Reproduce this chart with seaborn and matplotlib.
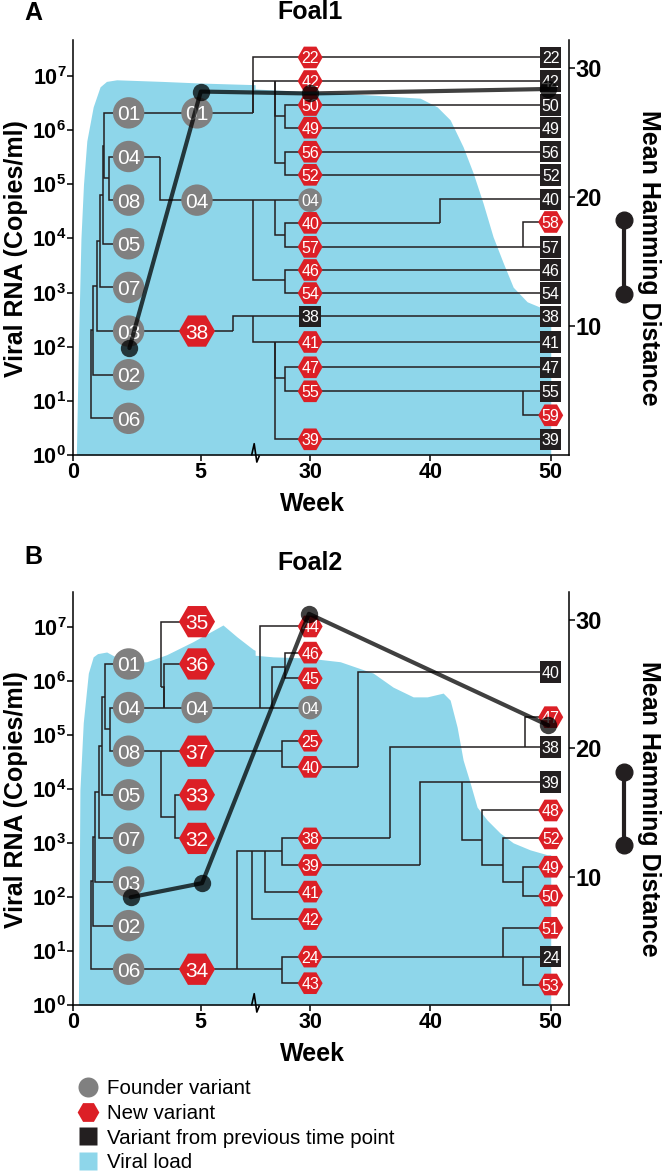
import numpy as np
import pandas as pd
import matplotlib
matplotlib.use("Agg")
import matplotlib.pyplot as plt
import matplotlib.transforms as mtransforms
from matplotlib.collections import LineCollection
from matplotlib.lines import Line2D
from matplotlib.path import Path
from matplotlib.ticker import NullLocator, FixedLocator
import seaborn as sns

# ---------------------------------------------------------------- data
WEEK_TICKS = [0, 5, 30, 40, 50]
VL_TICK_EXP = [0, 1, 2, 3, 4, 5, 6, 7]
HAM_TICKS = [10, 20, 30]
HAM_SCALE_BAR = [18.2, 12.5]

FOUNDER_LABELS = ["01", "04", "08", "05", "07", "03", "02", "06"]
FOUNDER_ROWS = [1, 2, 3, 4, 5, 6, 7, 8]
FOUNDER_WEEK = 2.17
W5, W30, W50 = 4.85, 30.0, 50.0
LADDER_JOIN = ["08", "01", "05", "07", "03", "02", "06"]   # joined in turn onto founder 04
A_LADDER_WEEKS = [1.41, 1.20, 1.15, 1.05, 0.92, 0.78, 0.68]
B_LADDER_WEEKS = [1.44, 1.24, 1.11, 1.02, 0.85, 0.78, 0.70]

# Foal1
A_W5_LABELS = ["01", "04", "38"]
A_W5_KINDS = ["founder", "founder", "new"]
A_W5_ROWS = [1, 3, 6]
A_W30_LABELS = ["22", "42", "50", "49", "56", "52", "04", "40", "57", "46", "54", "38", "41", "47", "55", "39"]
A_W30_KINDS = ["new"] * 6 + ["founder"] + ["new"] * 4 + ["prev"] + ["new"] * 4
A_W30_ROWS = [-0.27, 0.27, 0.82, 1.34, 1.89, 2.42, 3.00, 3.52, 4.07, 4.60, 5.13, 5.66, 6.25, 6.83, 7.38, 8.48]
A_W50_LABELS = ["22", "42", "50", "49", "56", "52", "40", "58", "57", "46", "54", "38", "41", "47", "55", "59", "39"]
A_W50_KINDS = ["prev"] * 7 + ["new"] + ["prev"] * 7 + ["new", "prev"]
A_W50_ROWS = [-0.27, 0.27, 0.82, 1.34, 1.89, 2.42, 2.98, 3.50, 4.07, 4.60, 5.13, 5.66, 6.25, 6.83, 7.38, 7.93, 8.48]
A_NODES = {
    "M": (3.40, 2.00), "N": (7.05, 1.00), "N2": (27.07, 0.27), "N3": (27.90, 1.07),
    "N4": (27.90, 2.15), "Q": (7.05, 3.00), "R": (27.07, 3.00), "T": (27.90, 3.80),
    "S": (27.90, 4.83), "U": (6.26, 6.00), "W": (7.05, 5.66), "Y": (27.07, 6.25),
    "Z": (27.90, 7.08), "AA": (40.81, 3.52), "AB": (47.71, 4.07), "AC": (47.71, 7.38),
}
A_EDGES = [
    ("F01", "5:01"), ("F04", "M"), ("M", "5:04"), ("F03", "5:38"),
    ("5:01", "N"), ("N", "30:22"), ("N", "N2"), ("N2", "30:42"), ("N2", "N3"), ("N2", "N4"),
    ("N3", "30:50"), ("N3", "30:49"), ("N4", "30:56"), ("N4", "30:52"),
    ("5:04", "Q"), ("Q", "R"), ("Q", "S"), ("R", "30:04"), ("R", "T"),
    ("T", "30:40"), ("T", "30:57"), ("S", "30:46"), ("S", "30:54"),
    ("5:38", "U"), ("U", "W"), ("W", "30:38"), ("W", "Y"), ("Y", "30:41"), ("Y", "Z"),
    ("Y", "30:39"), ("Z", "30:47"), ("Z", "30:55"),
    ("30:22", "50:22"), ("30:42", "50:42"), ("30:50", "50:50"), ("30:49", "50:49"),
    ("30:56", "50:56"), ("30:52", "50:52"), ("30:40", "AA"), ("AA", "50:40"),
    ("30:57", "AB"), ("AB", "50:57"), ("AB", "50:58"), ("30:46", "50:46"),
    ("30:54", "50:54"), ("30:38", "50:38"), ("30:41", "50:41"), ("30:47", "50:47"),
    ("30:55", "AC"), ("AC", "50:55"), ("AC", "50:59"), ("30:39", "50:39"),
]
A_VL_WEEKS = [0.12, 0.20, 0.30, 0.40, 0.53, 0.78, 1.05, 1.30, 1.70, 3.50, 5.00, 7.13, 25.43,
              30.0, 35.0, 39.15, 40.56, 41.64, 42.72, 43.55, 44.38, 45.21, 46.05, 46.88,
              48.04, 49.12, 50.0]
A_VL_LOG = [0.0, 2.0, 4.0, 5.0, 5.8, 6.43, 6.80, 6.90, 6.93, 6.90, 6.87, 6.84, 6.76,
            6.71, 6.65, 6.59, 6.43, 6.19, 5.69, 5.21, 4.65, 4.03, 3.55, 3.10,
            2.83, 2.73, 2.73]
A_HAM_WEEKS = [2.20, 5.00, 30.0, 49.8]
A_HAM = [8.3, 28.2, 28.05, 28.4]

# Foal2
B_W5_LABELS = ["35", "36", "04", "37", "33", "32", "34"]
B_W5_KINDS = ["new", "new", "founder", "new", "new", "new", "new"]
B_W5_ROWS = [0.03, 1, 2, 3, 4, 5, 8]
B_W30_LABELS = ["44", "46", "45", "04", "25", "40", "38", "39", "41", "42", "24", "43"]
B_W30_KINDS = ["new"] * 3 + ["founder"] + ["new"] * 8
B_W30_ROWS = [0.14, 0.74, 1.33, 2.00, 2.76, 3.36, 5.00, 5.61, 6.22, 6.85, 7.71, 8.32]
B_W50_LABELS = ["40", "47", "38", "39", "48", "52", "49", "50", "51", "24", "53"]
B_W50_KINDS = ["prev", "new", "prev", "prev", "new", "new", "new", "new", "new", "prev", "new"]
B_W50_ROWS = [1.18, 2.22, 2.90, 3.71, 4.36, 5.00, 5.65, 6.31, 7.05, 7.71, 8.35]
B_NODES = {
    "P1": (3.57, 2.00), "P2": (3.44, 1.52), "Q1": (3.44, 3.00), "Q2": (3.99, 4.50),
    "N37": (27.65, 3.00), "R1": (25.85, 2.00), "R2": (26.82, 2.00), "R3": (27.93, 1.06),
    "S1": (6.41, 8.00), "S2": (7.00, 5.30), "S3": (26.26, 5.30), "S4": (27.65, 5.30),
    "S24": (27.65, 8.00), "N40": (33.97, 3.36), "T1": (36.65, 5.00), "T2": (47.88, 2.90),
    "U0": (39.14, 5.61), "U1": (42.59, 3.71), "U2": (44.30, 5.04), "U3": (46.05, 5.61),
    "U4": (47.67, 6.00), "V1": (46.05, 7.71), "V2": (47.71, 7.71),
}
B_EDGES = [
    ("F04", "P1"), ("P1", "5:04"), ("P1", "5:36"), ("P1", "P2"), ("P2", "5:35"),
    ("F08", "Q1"), ("Q1", "5:37"), ("Q1", "Q2"), ("Q2", "5:33"), ("Q2", "5:32"),
    ("F06", "5:34"), ("5:37", "N37"), ("N37", "30:25"), ("N37", "30:40"),
    ("5:04", "R1"), ("R1", "30:44"), ("R1", "R2"), ("R2", "30:04"), ("R2", "R3"),
    ("R3", "30:46"), ("R3", "30:45"),
    ("5:34", "S1"), ("S1", "S2"), ("S1", "S24"), ("S2", "30:42"), ("S2", "S3"),
    ("S3", "30:41"), ("S3", "S4"), ("S4", "30:38"), ("S4", "30:39"),
    ("S24", "30:24"), ("S24", "30:43"),
    ("30:40", "N40"), ("N40", "50:40"), ("30:38", "T1"), ("T1", "T2"),
    ("T2", "50:38"), ("T2", "50:47"), ("30:39", "U0"), ("U0", "U1"), ("U1", "50:39"),
    ("U1", "U2"), ("U2", "50:48"), ("U2", "U3"), ("U3", "50:52"), ("U3", "U4"),
    ("U4", "50:49"), ("U4", "50:50"), ("30:24", "V1"), ("V1", "50:51"), ("V1", "V2"),
    ("V2", "50:24"), ("V2", "50:53"),
]
B_VL_WEEKS = [0.20, 0.23, 0.26, 0.39, 0.59, 0.78, 0.95, 1.31, 2.09, 2.88, 3.66, 4.69,
              5.87, 6.42, 7.05, 7.13, 25.43, 26.93, 29.75, 32.5, 35.24, 36.9, 38.57,
              39.73, 41.06, 41.64, 42.22, 42.72, 43.3, 43.88, 44.72, 45.8, 46.88,
              48.29, 49.7, 50.0]
B_VL_LOG = [0.0, 2.0, 3.98, 5.22, 6.14, 6.44, 6.50, 6.53, 6.33, 6.35, 6.48, 6.72,
            7.03, 6.81, 6.58, 6.56, 6.47, 6.44, 6.42, 6.35, 6.14, 5.88, 5.70,
            5.70, 5.77, 5.64, 5.14, 4.53, 4.11, 3.66, 3.42, 3.18, 3.00,
            2.87, 2.78, 2.78]
B_HAM_WEEKS = [2.25, 5.05, 29.9, 49.8]
B_HAM = [8.4, 9.5, 30.5, 21.8]

LEGEND_LABELS = ["Founder variant", "New variant", "Variant from previous time point", "Viral load"]

# ---------------------------------------------------------------- style
RED, GRAY, BLACK, BLUE = "#dc1f26", "#808080", "#231f20", "#8ed6ea"
KIND_STYLE = {"founder": ("o", GRAY), "new": ("H", RED), "prev": ("s", BLACK)}
SIZE_MS = {("founder", "big"): 22.6, ("new", "big"): 26.0,
           ("founder", "small"): 17.0, ("new", "small"): 18.0, ("prev", "small"): 15.4}
LABEL_FS = {"big": 15, "small": 11.5}

sns.set_theme(style="ticks")
plt.rcParams["font.family"] = ["Liberation Sans", "DejaVu Sans"]
plt.rcParams.update({
    "mathtext.fontset": "custom", "mathtext.rm": "Liberation Sans",
    "mathtext.bf": "Liberation Sans:bold", "mathtext.it": "Liberation Sans:italic",
    "text.color": "black", "axes.labelcolor": "black", "xtick.color": "black",
    "ytick.color": "black", "axes.edgecolor": "black",
})

# broken week axis: 0-7.13 wide, 7.13-25.43 collapsed, 25.43-> narrower
BREAK_LO, BREAK_HI = 7.13, 25.43
W_BP = np.array([-100.0, 0.0, BREAK_LO, BREAK_HI, 100.0])
U_BP = np.array([-2550.0, 0.0, BREAK_LO * 25.5, BREAK_LO * 25.5 + 0.05,
                 BREAK_LO * 25.5 + 0.05 + (100 - BREAK_HI) * 12.03])


def fwd(w):
    return np.interp(w, W_BP, U_BP)


def inv(u):
    return np.interp(u, U_BP, W_BP)


def leaf_table(w5, w30, w50):
    recs = []
    for lab, r in zip(FOUNDER_LABELS, FOUNDER_ROWS):
        recs.append(dict(name="F" + lab, week=FOUNDER_WEEK, row=r, label=lab, kind="founder", size="big"))
    for prefix, week, (labs, kinds, rows), size in [("5", W5, w5, "big"), ("30", W30, w30, "small"),
                                                     ("50", W50, w50, "small")]:
        for lab, k, r in zip(labs, kinds, rows):
            recs.append(dict(name=f"{prefix}:{lab}", week=week, row=r, label=lab, kind=k, size=size))
    return pd.DataFrame(recs)


def draw_panel(rect, letter, title, letter_y, title_y, leaves, ladder_weeks, nodes, edges,
               vl_w, vl_log, ham_w, ham, vl_top, row_lim):
    ax = fig.add_axes(rect)
    ax_t = ax.twinx()
    ax_h = ax.twinx()
    ax.set_xscale("function", functions=(fwd, inv))

    # viral load area
    ax.fill_between(vl_w, 1, 10 ** np.asarray(vl_log), color=BLUE, lw=0, zorder=1)

    # node positions
    pos = {n: (w, r) for n, w, r in zip(leaves["name"], leaves["week"], leaves["row"])}
    pos.update(nodes)
    all_edges = list(edges)
    cur = "F04"
    for i, (w, lab) in enumerate(zip(ladder_weeks, LADDER_JOIN)):
        child = "F" + lab
        rr = [pos[cur][1], pos[child][1]]
        name = f"L{i}"
        pos[name] = (w, (min(rr) + max(rr)) / 2)
        all_edges += [(name, cur), (name, child)]
        cur = name
    segs = []
    for p, c in all_edges:
        (xp, yp), (xc, yc) = pos[p], pos[c]
        segs.append([(xp, yp), (xp, yc), (xc, yc)])
    lc = LineCollection(segs, colors=BLACK, linewidths=1.1, zorder=2,
                        joinstyle="miter", capstyle="butt")
    ax_t.add_collection(lc)

    for (kind, size), sub in leaves.groupby(["kind", "size"]):
        marker, color = KIND_STYLE[kind]
        sns.scatterplot(data=sub, x="week", y="row", marker=marker, s=SIZE_MS[(kind, size)] ** 2,
                        color=color, linewidth=0, edgecolor="none", ax=ax_t, zorder=3, legend=False)
    for _, rec in leaves.iterrows():
        ax_t.text(rec["week"], rec["row"], rec["label"], ha="center", va="center_baseline",
                  color="white", fontsize=LABEL_FS[rec["size"]], zorder=4)

    # Hamming distance line
    sns.lineplot(x=ham_w, y=ham, ax=ax_h, color="black", alpha=0.75, linewidth=3.0,
                 marker="o", markersize=12.5, markeredgewidth=0, zorder=5, sort=False,
                 estimator=None)
    tr = mtransforms.blended_transform_factory(ax_h.transAxes, ax_h.transData)
    ax_h.plot([1.11, 1.11], HAM_SCALE_BAR, transform=tr, color=BLACK, lw=3, marker="o",
              ms=12, clip_on=False)

    # axes formatting
    ax.set_yscale("log")
    ax.set_ylim(1, 10 ** vl_top)
    ax.yaxis.set_major_locator(FixedLocator([10.0 ** e for e in VL_TICK_EXP]))
    ax.yaxis.set_minor_locator(NullLocator())
    ax.set_yticklabels([rf"$\mathbf{{10^{{{e}}}}}$" for e in VL_TICK_EXP])
    ax.set_xticks(WEEK_TICKS)
    ax.set_xticklabels([str(w) for w in WEEK_TICKS], fontweight="bold")
    ax.xaxis.set_minor_locator(NullLocator())
    ax.tick_params(axis="both", which="major", length=4.5, width=1.1, labelsize=15.5,
                   pad=0.5, direction="out", left=True, bottom=True, right=False, top=False)
    for s in ["top", "right"]:
        ax.spines[s].set_visible(False)
    for s in ["left", "bottom"]:
        ax.spines[s].set_linewidth(1.1)
        ax.spines[s].set_color("black")

    ax_t.set_ylim(*row_lim)
    ax_t.set_yticks([])
    ax_t.set_ylabel("")
    for s in ax_t.spines.values():
        s.set_visible(False)

    ax_h.set_ylim(0, 32.2)
    ax_h.set_yticks(HAM_TICKS)
    ax_h.set_yticklabels([str(t) for t in HAM_TICKS], fontweight="bold")
    ax_h.tick_params(axis="y", length=4, width=1.1, labelsize=17, pad=0.5, right=True, left=False)
    for s in ["top", "left", "bottom"]:
        ax_h.spines[s].set_visible(False)
    ax_h.spines["right"].set_linewidth(1.1)
    ax_h.spines["right"].set_color("black")

    ax.set_xlim(0, 51.52)

    # break mark on the week axis
    brk = Path([(-3, 0), (-1, 9), (1, -5), (3, 0)],
               [Path.MOVETO, Path.LINETO, Path.LINETO, Path.LINETO])
    btr = mtransforms.blended_transform_factory(ax.transData, ax.transAxes)
    ax.plot([BREAK_LO], [0], transform=btr, marker=brk, ms=17, mfc="none", mec="black",
            mew=1.2, ls="none", clip_on=False, zorder=6)

    ax.set_xlabel("Week", fontsize=18, fontweight="bold", va="center")
    ax.xaxis.set_label_coords(0.4815, -0.118)
    ax.set_ylabel("Viral RNA (Copies/ml)", fontsize=18, fontweight="bold", va="center", ha="center")
    ax.yaxis.set_label_coords(-0.1156, 0.497)
    ax_h.set_ylabel("Mean Hamming Distance", fontsize=18, fontweight="bold", rotation=270,
                    va="center", ha="center")
    ax_h.yaxis.set_label_coords(1.161, 0.475)

    fig.text(33 / 666, 1 - letter_y / 1171, letter, fontsize=18, fontweight="bold",
             ha="center", va="center")
    fig.text(310 / 666, 1 - title_y / 1171, title, fontsize=18, fontweight="bold",
             ha="center", va="center")
    return ax


fig = plt.figure(figsize=(6.66, 11.71), dpi=100)

A_leaves = leaf_table((A_W5_LABELS, A_W5_KINDS, A_W5_ROWS), (A_W30_LABELS, A_W30_KINDS, A_W30_ROWS),
                      (A_W50_LABELS, A_W50_KINDS, A_W50_ROWS))
B_leaves = leaf_table((B_W5_LABELS, B_W5_KINDS, B_W5_ROWS), (B_W30_LABELS, B_W30_KINDS, B_W30_ROWS),
                      (B_W50_LABELS, B_W50_KINDS, B_W50_ROWS))

draw_panel([73.3 / 666, 1 - 455 / 1171, 495.7 / 666, 415 / 1171], "A", "Foal1", 12.5, 12,
           A_leaves, A_LADDER_WEEKS, A_NODES, A_EDGES, A_VL_WEEKS, A_VL_LOG,
           A_HAM_WEEKS, A_HAM, 7.665, (8.84, -0.67))
draw_panel([73.3 / 666, 1 - 1005 / 1171, 495.7 / 666, 413 / 1171], "B", "Foal2", 557, 563,
           B_leaves, B_LADDER_WEEKS, B_NODES, B_EDGES, B_VL_WEEKS, B_VL_LOG,
           B_HAM_WEEKS, B_HAM, 7.64, (8.82, -0.65))

handles = [
    Line2D([], [], ls="none", marker="o", ms=14.4, mfc=GRAY, mec="none"),
    Line2D([], [], ls="none", marker="H", ms=15.6, mfc=RED, mec="none"),
    Line2D([], [], ls="none", marker="s", ms=13.2, mfc=BLACK, mec="none"),
    Line2D([], [], ls="none", marker="s", ms=13.2, mfc=BLUE, mec="none"),
]
fig.legend(handles, LEGEND_LABELS, loc="upper left", bbox_to_anchor=(77.3 / 666, 1 - 1079 / 1171),
           frameon=False, fontsize=14.8, handlelength=1.0, handletextpad=0.45,
           labelspacing=0.28, borderpad=0, borderaxespad=0)

fig.savefig("out.png", dpi=100)
